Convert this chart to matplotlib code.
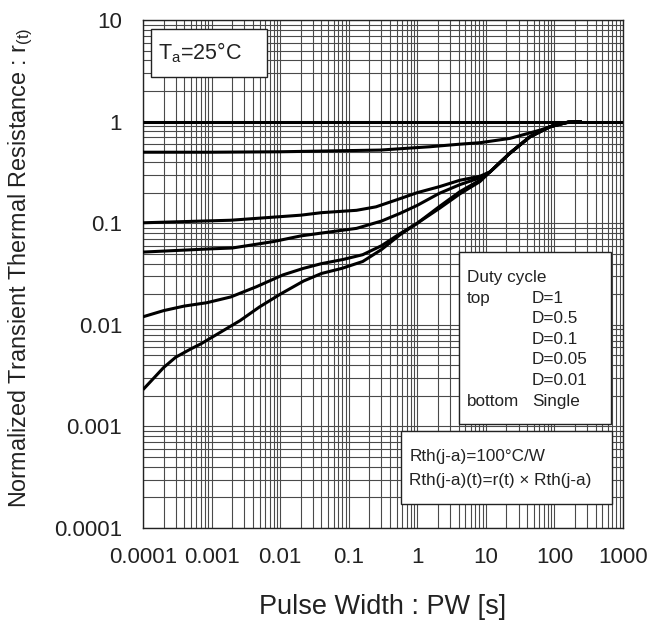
import numpy as np
import matplotlib
matplotlib.use('Agg')
import matplotlib.pyplot as plt
from matplotlib.ticker import FixedLocator, LogLocator, NullFormatter
from matplotlib.patches import Rectangle

plt.rcParams['font.family'] = ['Liberation Sans', 'DejaVu Sans']
plt.rcParams['mathtext.fontset'] = 'custom'
plt.rcParams['mathtext.rm'] = 'Liberation Sans'
plt.rcParams['mathtext.it'] = 'Liberation Sans'

# (log-log)
x_ticks = [1e-4, 1e-3, 1e-2, 1e-1, 1, 10, 100, 1000]
x_labels = ['0.0001', '0.001', '0.01', '0.1', '1', '10', '100', '1000']
y_ticks = [1e-4, 1e-3, 1e-2, 1e-1, 1, 10]
y_labels = ['0.0001', '0.001', '0.01', '0.1', '1', '10']

# common tail once all curves merge
tail_x = [11.5, 22.5, 44, 86, 160, 250]
tail_y = [0.32, 0.49, 0.71, 0.89, 0.99, 1.0]

d1_x = [1e-4, 1000]
d1_y = [1.0, 1.0]

d05_x = [1e-4, 1e-3, 1e-2, 0.29, 1.53, 4.2, 8.2, 22.5, 62, 120, 211]
d05_y = [0.50, 0.50, 0.505, 0.525, 0.566, 0.60, 0.62, 0.684, 0.826, 0.96, 1.0]

d01_x = [1e-4, 1.9e-3, 0.02, 0.04, 0.13, 0.25, 0.5, 1, 2.1, 4.2, 8.2] + tail_x
d01_y = [0.101, 0.107, 0.120, 0.127, 0.134, 0.145, 0.170, 0.20, 0.229, 0.265, 0.29] + tail_y

d005_x = [1e-4, 1e-3, 2e-3, 8e-3, 2e-2, 4e-2, 0.13, 0.3, 0.56, 1, 2.1, 4.2, 8.2] + tail_x
d005_y = [0.052, 0.056, 0.057, 0.066, 0.075, 0.080, 0.089, 0.105, 0.125, 0.15, 0.197, 0.24, 0.28] + tail_y

d001_x = [1e-4, 2e-4, 4e-4, 8.5e-4, 1.9e-3, 4.5e-3, 1.1e-2, 2.2e-2, 4e-2, 8.3e-2, 0.16, 0.3, 0.56,
          1, 2.1, 4.2, 8.2] + tail_x
d001_y = [0.0120, 0.0138, 0.0153, 0.0165, 0.0188, 0.0237, 0.031, 0.036, 0.040, 0.044, 0.049, 0.060, 0.079,
          0.10, 0.146, 0.205, 0.265] + tail_y

single_x = [1e-4, 2e-4, 3e-4, 5e-4, 7e-4, 1e-3, 2.6e-3, 5e-3, 1e-2, 2.2e-2, 4e-2, 8e-2, 0.16, 0.3, 0.56,
            1, 2.1, 4.2, 8.2] + tail_x
single_y = [0.0023, 0.0038, 0.0048, 0.0058, 0.0065, 0.0075, 0.011, 0.015, 0.020, 0.027, 0.032, 0.036, 0.042,
            0.055, 0.077, 0.10, 0.14, 0.195, 0.257] + tail_y

curves = [(d1_x, d1_y), (d05_x, d05_y), (d01_x, d01_y),
          (d005_x, d005_y), (d001_x, d001_y), (single_x, single_y)]

fig = plt.figure(figsize=(6.48, 6.22), dpi=100)
ax = fig.add_axes([0.2207, 0.1511, 0.7407, 0.8167])
ax.set_xscale('log')
ax.set_yscale('log')
ax.set_xlim(1e-4, 1000)
ax.set_ylim(1e-4, 10)

for cx, cy in curves:
    ax.plot(cx, cy, color='black', lw=2.2, solid_joinstyle='round', solid_capstyle='butt', zorder=3)

ax.xaxis.set_major_locator(FixedLocator(x_ticks))
ax.yaxis.set_major_locator(FixedLocator(y_ticks))
ax.set_xticklabels(x_labels)
ax.set_yticklabels(y_labels)
ax.xaxis.set_minor_locator(LogLocator(base=10, subs=np.arange(2, 10), numticks=100))
ax.yaxis.set_minor_locator(LogLocator(base=10, subs=np.arange(2, 10), numticks=100))
ax.xaxis.set_minor_formatter(NullFormatter())
ax.yaxis.set_minor_formatter(NullFormatter())
ax.tick_params(which='both', length=0, labelsize=16, colors='#222222')
ax.tick_params(axis='x', pad=14)
ax.tick_params(axis='y', pad=15)
ax.grid(True, which='both', color='#4a4a4a', lw=0.8, zorder=1)
for s in ax.spines.values():
    s.set_linewidth(1.0)
    s.set_color('#222222')

ax.set_xlabel('Pulse Width : PW [s]', fontsize=19.5, color='#222222')
ax.xaxis.set_label_coords(0.5, -0.13)
ax.set_ylabel('Normalized Transient Thermal Resistance : $\\mathrm{r_{(t)}}$', fontsize=16.8, color='#222222')
ax.yaxis.set_label_coords(-0.225, 0.512)

# boxes
ax.add_patch(Rectangle((0.016, 0.888), 0.242, 0.094, transform=ax.transAxes,
                       facecolor='white', edgecolor='#222222', lw=1.0, zorder=5))
ax.text(0.031, 0.935, '$\\mathrm{T_a}$=25°C', transform=ax.transAxes, fontsize=15.5,
        va='center', ha='left', color='#222222', zorder=6)

ax.add_patch(Rectangle((0.658, 0.205), 0.317, 0.338, transform=ax.transAxes,
                       facecolor='white', edgecolor='#222222', lw=1.0, zorder=5))
rows = ['Duty cycle', 'top', '', '', '', '', 'bottom']
vals = ['', 'D=1', 'D=0.5', 'D=0.1', 'D=0.05', 'D=0.01', 'Single']
for i, (a, b) in enumerate(zip(rows, vals)):
    yy = 0.493 - i * 0.0405
    ax.text(0.674, yy, a, transform=ax.transAxes, fontsize=12.3, va='center', ha='left',
            color='#222222', zorder=6)
    ax.text(0.810, yy, b, transform=ax.transAxes, fontsize=12.3, va='center', ha='left',
            color='#222222', zorder=6)

ax.add_patch(Rectangle((0.5375, 0.0467), 0.4395, 0.1433, transform=ax.transAxes,
                       facecolor='white', edgecolor='#222222', lw=1.0, zorder=5))
ax.text(0.555, 0.140, 'Rth(j-a)=100°C/W', transform=ax.transAxes, fontsize=12.3,
        va='center', ha='left', color='#222222', zorder=6)
ax.text(0.555, 0.094, 'Rth(j-a)(t)=r(t) × Rth(j-a)', transform=ax.transAxes, fontsize=12.3,
        va='center', ha='left', color='#222222', zorder=6)

fig.savefig('out.png', dpi=100)
